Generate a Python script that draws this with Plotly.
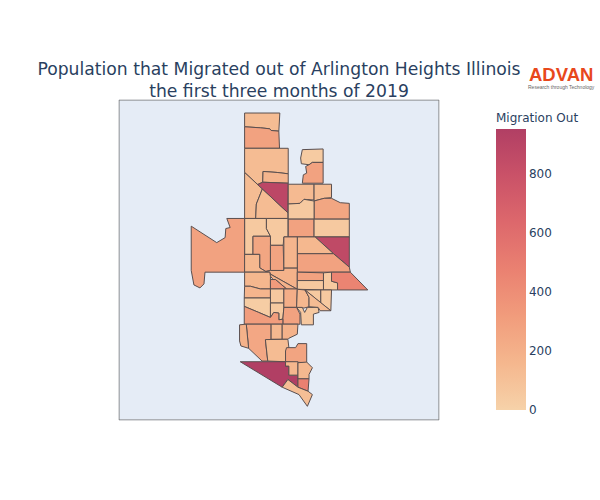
import plotly.graph_objects as go
from plotly.colors import sample_colorscale, sequential

ORIGIN_LON = -88.06
ORIGIN_LAT = 42.20
GRID_LON_DEG = 0.0002
GRID_LAT_DEG = 0.0001483
MAP_CENTER_LON = -88.0009
MAP_CENTER_LAT = 42.129
MAP_SCALE = 1888

MIGRATION_OUT = [
    130, 280, 130, 130, 130, 170, 880, 40, 280, 140,
    130, 260, 50, 280, 50, 860, 150, 280, 50, 50,
    260, 270, 170, 280, 150, 190, 190, 160, 320, 170,
    60, 30, 50, 210, 280, 310, 280, 60, 50, 460,
    150, 50, 50, 60, 130, 250, 150, 190, 130, 270,
    950, 190, 160, 150, 480, 120,
]

TRACT_OUTLINES = [
    [(193, 41), (298, 41), (295, 95), (272, 93), (268, 88), (240, 85), (193, 82)],
    [(193, 82), (240, 85), (268, 88), (272, 93), (295, 95), (297, 146), (193, 146)],
    [(193, 146), (323, 146), (323, 222), (290, 218), (248, 215), (247, 247), (232, 254), (193, 218)],
    [(193, 218), (246, 267), (228, 312), (226, 355), (193, 355)],
    [(246, 267), (322, 338), (322, 355), (226, 355), (228, 312)],
    [(248, 215), (290, 218), (323, 222), (323, 250), (247, 247)],
    [(232, 254), (247, 247), (323, 250), (322, 338)],
    [(365, 150), (427, 148), (427, 188), (395, 188), (385, 195), (362, 192), (360, 175)],
    [(385, 195), (395, 188), (427, 188), (427, 250), (365, 250), (368, 225), (378, 220), (375, 200)],
    [(323, 253), (400, 253), (400, 300), (370, 298), (358, 310), (323, 312)],
    [(400, 253), (452, 253), (452, 293), (430, 295), (400, 303)],
    [(400, 303), (430, 295), (452, 295), (478, 308), (505, 310), (505, 357), (400, 357)],
    [(323, 312), (358, 310), (370, 298), (400, 303), (400, 357), (323, 357)],
    [(323, 357), (400, 357), (400, 410), (323, 410)],
    [(400, 357), (505, 357), (505, 410), (400, 410)],
    [(403, 410), (505, 410), (505, 500), (458, 460)],
    [(350, 410), (403, 410), (458, 460), (350, 460)],
    [(350, 460), (458, 460), (505, 500), (508, 515), (350, 515)],
    [(193, 355), (258, 355), (258, 385), (270, 408), (218, 408), (218, 462), (193, 462)],
    [(258, 355), (322, 355), (322, 410), (310, 410), (308, 435), (270, 435), (270, 408), (258, 385)],
    [(218, 408), (270, 408), (270, 510), (256, 513), (238, 502), (238, 462), (218, 462)],
    [(270, 435), (308, 435), (310, 510), (270, 510)],
    [(310, 410), (350, 410), (350, 503), (310, 503)],
    [(34, 378), (110, 427), (135, 412), (137, 385), (150, 382), (140, 355), (193, 355), (193, 515), (75, 515), (72, 550), (60, 562), (42, 553), (34, 510)],
    [(193, 462), (238, 462), (238, 502), (256, 513), (268, 515), (193, 515)],
    [(256, 513), (270, 510), (310, 510), (310, 503), (350, 503), (350, 566)],
    [(256, 513), (350, 566), (318, 565), (285, 537), (278, 537), (270, 527), (268, 515)],
    [(193, 515), (268, 515), (270, 527), (270, 565), (240, 565), (210, 557), (193, 557)],
    [(270, 537), (285, 537), (318, 565), (270, 565)],
    [(193, 557), (210, 557), (240, 565), (270, 565), (270, 592), (192, 592)],
    [(270, 565), (310, 565), (310, 607), (270, 607)],
    [(192, 592), (270, 592), (270, 650), (235, 635), (192, 617)],
    [(270, 607), (310, 607), (310, 620), (307, 655), (295, 657), (295, 637), (280, 635), (270, 650)],
    [(310, 565), (350, 565), (348, 620), (310, 620)],
    [(310, 620), (348, 620), (358, 640), (358, 670), (307, 670), (307, 655)],
    [(192, 617), (235, 635), (270, 650), (280, 635), (295, 637), (295, 657), (307, 655), (307, 670), (192, 670)],
    [(350, 515), (428, 517), (428, 540), (350, 540)],
    [(350, 540), (428, 540), (428, 568), (350, 566)],
    [(428, 517), (452, 515), (452, 542), (470, 547), (470, 568), (428, 568)],
    [(452, 515), (508, 515), (560, 568), (470, 568), (470, 547), (452, 542)],
    [(350, 566), (373, 568), (385, 590), (385, 618), (370, 622), (348, 620)],
    [(373, 568), (420, 568), (420, 607)],
    [(420, 568), (452, 568), (450, 630), (420, 607)],
    [(348, 620), (365, 620), (372, 635), (380, 620), (412, 620), (415, 635), (398, 640), (398, 672), (362, 672), (360, 635)],
    [(373, 568), (450, 630), (418, 630), (412, 620), (385, 618), (385, 590)],
    [(198, 670), (272, 670), (272, 715), (255, 718), (262, 780), (245, 780), (205, 742)],
    [(272, 670), (305, 670), (305, 715), (272, 715)],
    [(305, 670), (352, 670), (350, 700), (325, 712), (322, 715), (305, 715)],
    [(255, 716), (322, 715), (325, 740), (315, 750), (315, 782), (262, 780)],
    [(318, 740), (345, 740), (352, 728), (378, 728), (378, 785), (315, 782), (315, 750)],
    [(180, 782), (315, 782), (315, 795), (325, 795), (325, 822), (352, 822), (352, 858), (322, 835), (305, 858)],
    [(178, 672), (198, 670), (205, 742), (182, 735), (178, 720)],
    [(315, 782), (352, 782), (352, 822), (325, 822), (325, 795), (315, 795)],
    [(352, 785), (378, 783), (395, 800), (385, 820), (385, 833), (352, 833)],
    [(352, 833), (385, 833), (382, 870), (352, 858)],
    [(305, 858), (322, 835), (352, 858), (382, 870), (395, 880), (380, 915), (355, 880)],
]

TITLE_LINES = ['Population that Migrated out of Arlington Heights Illinois', 'the first three months of 2019']
Z_MAX = 950


def to_lonlat(outline):
    lons = [ORIGIN_LON + p[0] * GRID_LON_DEG for p in outline]
    lats = [ORIGIN_LAT - p[1] * GRID_LAT_DEG for p in outline]
    area = 0
    for i in range(len(lons)):
        j = (i + 1) % len(lons)
        area += lons[i] * lats[j] - lons[j] * lats[i]
    # outer ring has to run clockwise on the globe
    if area > 0:
        lons.reverse()
        lats.reverse()
    return lons + [lons[0]], lats + [lats[0]]


fig = go.Figure()

for outline, value in zip(TRACT_OUTLINES, MIGRATION_OUT):
    lons, lats = to_lonlat(outline)
    fig.add_trace(go.Scattergeo(
        lon=lons,
        lat=lats,
        mode='lines',
        fill='toself',
        fillcolor=sample_colorscale(sequential.Redor, value / Z_MAX)[0],
        line=dict(color='#5a4f4f', width=1),
        hoverinfo='text',
        text=str(value),
        showlegend=False,
    ))

# invisible markers, only here to carry the colorbar
first_lons = [to_lonlat(o)[0][0] for o in TRACT_OUTLINES]
first_lats = [to_lonlat(o)[1][0] for o in TRACT_OUTLINES]
fig.add_trace(go.Scattergeo(
    lon=first_lons,
    lat=first_lats,
    mode='markers',
    marker=dict(
        size=1,
        opacity=0,
        color=MIGRATION_OUT,
        colorscale='Redor',
        cmin=0,
        cmax=Z_MAX,
        showscale=True,
        colorbar=dict(title=dict(text='Migration Out', font_size=12)),
    ),
    hoverinfo='skip',
    showlegend=False,
))

fig.update_geos(
    projection_type='mercator',
    projection_scale=MAP_SCALE,
    projection_rotation_lon=MAP_CENTER_LON,
    center=dict(lon=MAP_CENTER_LON, lat=MAP_CENTER_LAT),
    bgcolor='#E5ECF6',
    showframe=True,
    framecolor='#777777',
    showland=False,
    showlakes=False,
    showocean=False,
    showrivers=False,
    showcountries=False,
    showcoastlines=False,
    showsubunits=False,
)

fig.update_layout(
    title=dict(text='<br>'.join(TITLE_LINES), x=0.465, xanchor='center', y=0.85, yanchor='middle', font_size=17.2),
    font_family='DejaVu Sans',
    width=600,
    height=500,
)

# logo text, top right
fig.add_annotation(text='<b>ADVAN</b>', xref='paper', yref='paper', x=1.209, y=1.08, xanchor='center', yanchor='middle',
                   showarrow=False, font=dict(family='Liberation Sans', size=18.5, color='#E8481C'))
fig.add_annotation(text='Research through Technology', xref='paper', yref='paper', x=1.209, y=1.0406,
                   xanchor='center', yanchor='middle', showarrow=False,
                   font=dict(family='Liberation Sans', size=5, color='#666666'))

fig.write_html('out.html', config={'displayModeBar': False}, post_script="document.body.style.margin='0';")
